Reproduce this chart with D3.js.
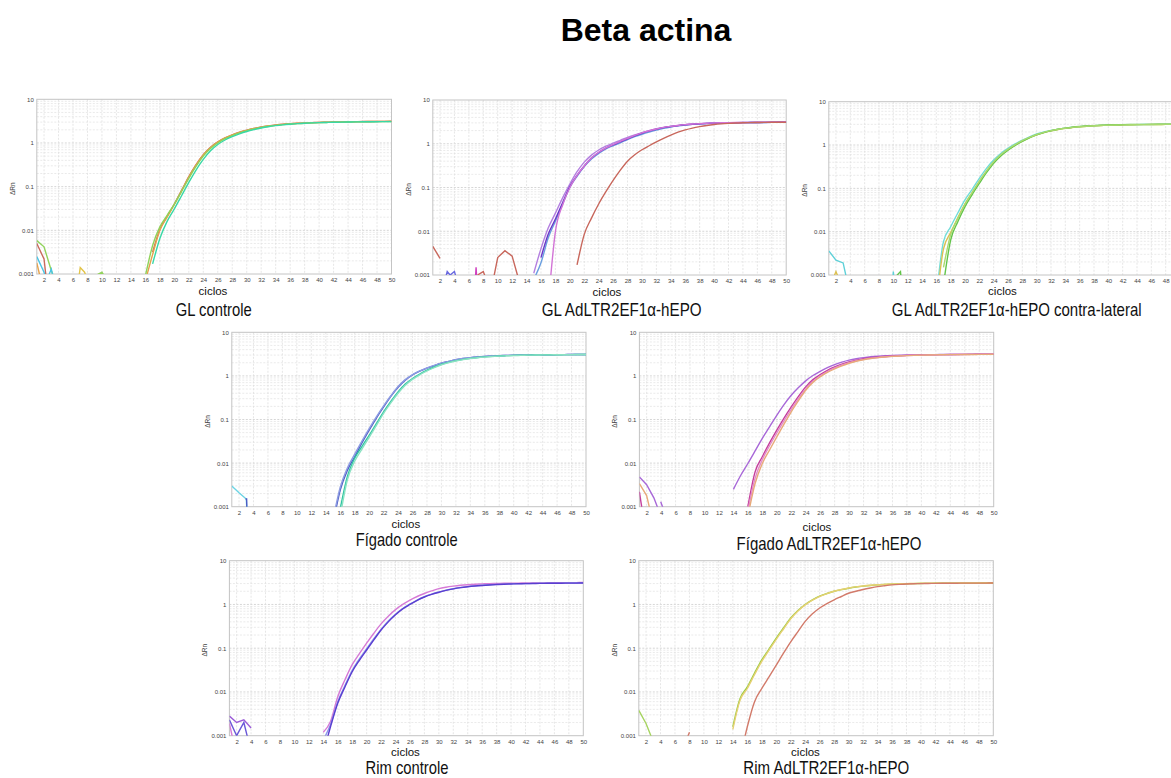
<!DOCTYPE html>
<html><head><meta charset="utf-8">
<script src="https://cdn.jsdelivr.net/npm/d3@7"></script>
<style>
html,body{margin:0;padding:0;background:#fff;}
svg{display:block;}
</style></head><body>
<svg id="chart" width="1171" height="778"></svg>
<script>
// ================= DATA =================
const mainTitle = "Beta actina";
const xLabel = "ciclos";
const yLabel = "ΔRn";
const xTicks = [2,4,6,8,10,12,14,16,18,20,22,24,26,28,30,32,34,36,38,40,42,44,46,48,50];
const yTicks = [0.001, 0.01, 0.1, 1, 10];
const yTickLabels = ["0.001", "0.01", "0.1", "1", "10"];
const panelTitles = ["GL controle", "GL AdLTR2EF1α-hEPO", "GL AdLTR2EF1α-hEPO contra-lateral",
  "Fígado controle", "Fígado AdLTR2EF1α-hEPO", "Rim controle", "Rim AdLTR2EF1α-hEPO"];

// Panel 1 — GL controle (first cycle of each curve, then one value per cycle up to 50)
const p1Starts = [17, 16, 16, 17];
const p1Red = [0.0032,0.0105,0.021,0.040,0.082,0.17,0.32,0.54,0.80,1.06,1.31,1.54,1.76,1.96,2.15,2.32,2.46,2.58,2.68,2.76,2.83,2.88,2.92,2.96,2.99,3.02,3.04,3.06,3.08,3.10,3.11,3.12,3.13,3.14];
const p1Orange = [0.0007,0.0028,0.0100,0.020,0.039,0.080,0.165,0.31,0.53,0.79,1.05,1.30,1.53,1.75,1.95,2.14,2.31,2.45,2.57,2.67,2.75,2.82,2.87,2.91,2.95,2.98,3.01,3.03,3.05,3.07,3.09,3.10,3.11,3.12,3.13];
const p1Green = [0.0009,0.0045,0.012,0.022,0.040,0.078,0.155,0.29,0.50,0.75,1.00,1.25,1.48,1.70,1.90,2.09,2.26,2.41,2.53,2.63,2.71,2.78,2.84,2.88,2.92,2.95,2.98,3.00,3.02,3.04,3.06,3.07,3.08,3.09,3.10];
const p1Teal = [0.0017,0.0065,0.016,0.031,0.062,0.125,0.24,0.42,0.66,0.92,1.17,1.40,1.62,1.83,2.02,2.20,2.36,2.49,2.60,2.69,2.77,2.83,2.88,2.92,2.95,2.98,3.00,3.02,3.04,3.05,3.06,3.07,3.08,3.09];
const p1Noise = [
  [[1,0.0058],[2,0.0042],[3,0.0012],[3.4,0.0008]],
  [[1,0.005],[2,0.0022],[2.3,0.0008]],
  [[1,0.0025],[2,0.0011],[2.2,0.0008]],
  [[1,0.0018],[1.5,0.0008]],
  [[2.5,0.0008],[3,0.0013],[3.3,0.0008]],
  [[6.8,0.0008],[7,0.0014],[7.6,0.0011],[7.9,0.0008]],
  [[9,0.0009],[10,0.0011],[10.5,0.0008]]
];

// Panel 2 — GL AdLTR2EF1α-hEPO
const p2Starts = [15, 15, 16, 17, 21];
const p2LightPurple = [0.0011,0.0040,0.0118,0.026,0.058,0.12,0.23,0.38,0.55,0.72,0.88,1.03,1.2,1.4,1.6,1.8,2.0,2.2,2.36,2.5,2.62,2.72,2.8,2.86,2.91,2.95,2.98,3.0,3.02,3.04,3.05,3.06,3.07,3.08,3.09,3.1];
const p2Blue = [0.0008,0.0019,0.007,0.017,0.042,0.10,0.18,0.30,0.45,0.60,0.76,0.90,1.05,1.25,1.45,1.65,1.85,2.05,2.25,2.42,2.56,2.68,2.78,2.85,2.91,2.95,2.98,3.0,3.02,3.04,3.05,3.06,3.07,3.08,3.09,3.1];
const p2DarkPurple = [0.0025,0.0085,0.019,0.045,0.105,0.19,0.31,0.47,0.63,0.79,0.94,1.1,1.3,1.52,1.74,1.95,2.15,2.33,2.48,2.6,2.71,2.8,2.87,2.92,2.96,2.99,3.01,3.03,3.05,3.06,3.07,3.08,3.09,3.10,3.11];
const p2Magenta = [0.0002,0.0098,0.04,0.1,0.19,0.31,0.47,0.64,0.8,0.96,1.13,1.33,1.55,1.77,1.98,2.18,2.36,2.5,2.62,2.73,2.82,2.89,2.94,2.98,3.01,3.03,3.05,3.07,3.08,3.09,3.10,3.11,3.12,3.13];
const p2Brown = [0.0017,0.0085,0.02,0.042,0.08,0.145,0.25,0.40,0.56,0.73,0.9,1.1,1.33,1.58,1.84,2.07,2.28,2.46,2.62,2.75,2.85,2.92,2.97,3.01,3.04,3.06,3.08,3.09,3.10,3.11];
const p2Noise = [
  [[1,0.0045],[2,0.0024]],
  [[2.8,0.0009],[3,0.0012],[3.4,0.001],[4,0.0012],[4.3,0.0008]],
  [[6.9,0.0008],[7,0.0015],[7.1,0.0008]],
  [[7.2,0.001],[8,0.0012],[8.4,0.0008]],
  [[9.4,0.0008],[10,0.0025],[11,0.0036],[12,0.0027],[12.9,0.0008]]
];

// Panel 3 — GL AdLTR2EF1α-hEPO contra-lateral
const p3Starts = [16, 16, 17, 17];
const p3Cyan = [0.0003,0.0059,0.013,0.027,0.054,0.095,0.17,0.29,0.45,0.64,0.84,1.06,1.3,1.55,1.8,2.0,2.18,2.33,2.46,2.57,2.66,2.73,2.79,2.84,2.88,2.91,2.93,2.95,2.96,2.97,2.98,2.99,3.0,3.0,3.01];
const p3Yellow = [0.0002,0.004,0.0095,0.021,0.044,0.08,0.145,0.25,0.4,0.58,0.78,1.0,1.23,1.48,1.72,1.93,2.12,2.28,2.42,2.54,2.63,2.71,2.77,2.82,2.86,2.89,2.91,2.93,2.95,2.96,2.97,2.98,2.99,2.99,3.0];
const p3Green = [0.0006,0.0064,0.017,0.038,0.072,0.13,0.23,0.38,0.56,0.76,0.98,1.22,1.47,1.72,1.94,2.14,2.31,2.45,2.57,2.67,2.75,2.81,2.86,2.9,2.93,2.95,2.97,2.98,2.99,3.0,3.01,3.02,3.02,3.03];
const p3LightGreen = [0.0015,0.0085,0.02,0.043,0.08,0.145,0.25,0.41,0.6,0.8,1.02,1.26,1.5,1.75,1.96,2.15,2.31,2.44,2.55,2.64,2.72,2.78,2.83,2.87,2.9,2.92,2.94,2.95,2.96,2.97,2.98,2.99,2.99,3.0];
const p3Noise = [
  [[1,0.0036],[2,0.0022],[3,0.0019],[3.5,0.0008]],
  [[1.7,0.0009],[2,0.0012],[2.3,0.0009]],
  [[9.95,0.0008],[10,0.0012],[10.1,0.0008]],
  [[10.3,0.0009],[11,0.0012],[11.1,0.0008]]
];

// Panel 4 — Fígado controle
const p4Starts = [15, 15, 16, 16];
const p4DarkBlue = [0.0004,0.0024,0.0069,0.014,0.029,0.057,0.108,0.194,0.34,0.55,0.8,1.05,1.28,1.5,1.72,1.95,2.15,2.35,2.5,2.62,2.72,2.8,2.86,2.91,2.95,2.98,3.0,3.02,3.04,3.05,3.06,3.07,3.08,3.09,3.1,3.1];
const p4Lavender = [0.0005,0.0028,0.0078,0.016,0.032,0.062,0.115,0.205,0.35,0.57,0.82,1.07,1.3,1.52,1.74,1.96,2.16,2.35,2.5,2.62,2.72,2.8,2.86,2.91,2.95,2.98,3.0,3.02,3.04,3.05,3.06,3.07,3.08,3.09,3.1,3.1];
const p4Teal = [0.0009,0.005,0.013,0.024,0.043,0.08,0.15,0.26,0.43,0.65,0.87,1.1,1.35,1.6,1.85,2.05,2.24,2.4,2.53,2.64,2.73,2.8,2.86,2.91,2.95,2.98,3.0,3.02,3.04,3.05,3.06,3.07,3.08,3.09,3.1];
const p4Mint = [0.0006,0.0042,0.011,0.021,0.039,0.073,0.138,0.24,0.4,0.61,0.83,1.06,1.3,1.55,1.8,2.01,2.2,2.36,2.5,2.61,2.7,2.78,2.84,2.89,2.93,2.96,2.99,3.01,3.03,3.04,3.05,3.06,3.07,3.08,3.09];
const p4Noise = [
  [[1,0.003],[2,0.0021],[3,0.0015],[3.1,0.0008]],
  [[2.9,0.0015],[3.05,0.0015],[3.1,0.0007]]
];

// Panel 5 — Fígado AdLTR2EF1α-hEPO
const p5Starts = [14, 16, 16, 16];
const p5Purple = [0.0025,0.0052,0.0098,0.019,0.037,0.068,0.125,0.22,0.36,0.54,0.77,1.02,1.27,1.55,1.82,2.07,2.3,2.48,2.62,2.74,2.83,2.9,2.95,2.99,3.02,3.04,3.06,3.07,3.08,3.09,3.1,3.11,3.12,3.13,3.14,3.15,3.16];
const p5Magenta = [0.001,0.0063,0.014,0.029,0.057,0.108,0.195,0.34,0.56,0.82,1.07,1.34,1.6,1.86,2.1,2.3,2.47,2.6,2.7,2.78,2.85,2.9,2.95,2.99,3.02,3.04,3.06,3.08,3.09,3.1,3.11,3.12,3.13,3.14,3.15];
const p5Pink = [0.0008,0.0045,0.012,0.025,0.049,0.093,0.17,0.3,0.5,0.75,1.0,1.26,1.52,1.78,2.02,2.23,2.4,2.54,2.65,2.74,2.82,2.88,2.93,2.97,3.0,3.03,3.05,3.07,3.08,3.09,3.1,3.11,3.12,3.13,3.14];
const p5Orange = [0.0006,0.0034,0.0098,0.02,0.04,0.078,0.15,0.27,0.47,0.71,0.95,1.2,1.45,1.7,1.95,2.17,2.35,2.5,2.62,2.72,2.8,2.87,2.92,2.96,2.99,3.02,3.04,3.06,3.07,3.08,3.09,3.1,3.11,3.12,3.13];
const p5Noise = [
  [[1,0.0048],[2,0.0032],[3,0.0016],[3.7,0.0008]],
  [[1,0.0034],[2,0.0018],[2.5,0.0008]],
  [[1,0.0022],[1.4,0.0008]],
  [[3.95,0.0013],[4.4,0.0008]]
];

// Panel 6 — Rim controle
const p6Starts = [14, 14, 14];
const p6Pink = [0.0012,0.0021,0.0078,0.019,0.042,0.075,0.13,0.22,0.36,0.54,0.76,1.0,1.26,1.52,1.78,2.04,2.3,2.48,2.62,2.74,2.83,2.9,2.95,2.99,3.02,3.04,3.06,3.08,3.09,3.1,3.11,3.12,3.13,3.14,3.15,3.16,3.17];
const p6LightBlue = [0.0008,0.0018,0.006,0.014,0.031,0.057,0.097,0.165,0.27,0.42,0.6,0.81,1.02,1.26,1.5,1.72,1.92,2.12,2.29,2.44,2.56,2.66,2.74,2.81,2.87,2.92,2.96,2.99,3.01,3.03,3.05,3.06,3.07,3.08,3.09,3.10,3.11];
const p6DarkBlue = [0.0004,0.0016,0.0055,0.013,0.029,0.053,0.091,0.155,0.26,0.4,0.58,0.79,1.0,1.24,1.48,1.7,1.9,2.1,2.27,2.42,2.54,2.64,2.72,2.79,2.85,2.9,2.94,2.97,2.99,3.01,3.03,3.04,3.05,3.06,3.07,3.08,3.09];
const p6Noise = [
  [[1,0.0028],[2,0.002],[3,0.0023],[4,0.0015]],
  [[1,0.0023],[2,0.001],[3,0.002],[3.6,0.0008]],
  [[1,0.0019],[1.5,0.0008]]
];

// Panel 7 — Rim AdLTR2EF1α-hEPO
const p7Starts = [14, 14, 15];
const p7Green = [0.0016,0.0071,0.013,0.027,0.054,0.095,0.17,0.29,0.49,0.73,1.0,1.27,1.55,1.78,2.0,2.18,2.35,2.5,2.62,2.72,2.8,2.86,2.91,2.95,2.98,3.0,3.02,3.03,3.04,3.05,3.06,3.07,3.07,3.08,3.08,3.09,3.09];
const p7Yellow = [0.0014,0.0065,0.012,0.025,0.05,0.09,0.16,0.275,0.47,0.71,0.98,1.25,1.53,1.77,2.0,2.19,2.37,2.52,2.64,2.74,2.82,2.88,2.93,2.97,3.0,3.02,3.04,3.05,3.06,3.07,3.08,3.08,3.09,3.09,3.1,3.1,3.1];
const p7Red = [0.0003,0.0016,0.006,0.012,0.022,0.041,0.077,0.14,0.24,0.41,0.61,0.83,1.05,1.28,1.52,1.8,2.0,2.2,2.38,2.55,2.68,2.8,2.88,2.94,2.98,3.0,3.02,3.03,3.04,3.05,3.06,3.07,3.07,3.08,3.08,3.09];
const p7Noise = [
  [[1,0.0038],[2,0.0019],[2.9,0.0008]],
  [[7.6,0.0008],[8,0.0012]]
];

// ================= LAYOUT & STYLE =================
const panels = [
  {curves:[p1Red,p1Orange,p1Green,p1Teal], starts:p1Starts, noise:p1Noise,
   colors:["#c96a5c","#e4a24c","#8fd35a","#38d8a6"],
   noiseColors:["#92d35c","#c96a5c","#4cc4e4","#e4a24c","#4cc4e4","#e2c44a","#92d35c"],
   l:36.8, r:391.5, t:99.3, b:274, cx:213, cy:295, tx:213.7, ty:315.5, tw:76},
  {curves:[p2LightPurple,p2Blue,p2DarkPurple,p2Magenta,p2Brown], starts:p2Starts, noise:p2Noise,
   colors:["#b47fe0","#6a9fe0","#6a36c8","#d274d6","#c8675c"],
   noiseColors:["#c8675c","#6a6ae0","#d040c0","#c8675c","#c8675c"],
   l:432.8, r:786.2, t:100, b:275, cx:607, cy:295.7, tx:621.7, ty:316, tw:160},
  {curves:[p3Cyan,p3Yellow,p3Green,p3LightGreen], starts:p3Starts, noise:p3Noise,
   colors:["#6fdcd8","#dcc050","#62c44a","#a8da70"],
   noiseColors:["#5ed0d8","#dcc050","#5ed0d8","#62c44a"],
   l:828.8, r:1180, t:101.7, b:275, cx:1002.5, cy:295, tx:1016.7, ty:316, tw:250},
  {curves:[p4DarkBlue,p4Lavender,p4Teal,p4Mint], starts:p4Starts, noise:p4Noise,
   colors:["#4c5cc4","#8e9ce2","#2ec4a2","#8ae2c2"],
   noiseColors:["#6cd4e4","#4c5cc4"],
   l:231.8, r:586, t:332.3, b:506.7, cx:405.8, cy:528.3, tx:406.7, ty:546, tw:102},
  {curves:[p5Purple,p5Magenta,p5Pink,p5Orange], starts:p5Starts, noise:p5Noise,
   colors:["#a868d8","#c43e9c","#e48cc8","#e8aa7a"],
   noiseColors:["#a868d8","#e8aa7a","#c43e9c","#a868d8"],
   l:639.4, r:993.7, t:332.3, b:506.7, cx:817, cy:530.7, tx:829, ty:550, tw:185},
  {curves:[p6Pink,p6LightBlue,p6DarkBlue], starts:p6Starts, noise:p6Noise,
   colors:["#d67ad6","#8c96ea","#5a3ed0"],
   noiseColors:["#9c5ed8","#6a58d8","#d67ad6"],
   l:229.4, r:583.3, t:560.7, b:735.7, cx:405.5, cy:755.7, tx:407, ty:773.5, tw:83},
  {curves:[p7Green,p7Yellow,p7Red], starts:p7Starts, noise:p7Noise,
   colors:["#96cc40","#e6d072","#d27a6a"],
   noiseColors:["#a6d460","#d27a6a"],
   l:638.8, r:993.3, t:560.7, b:735.7, cx:805.5, cy:755.7, tx:826.3, ty:774, tw:166}
];

const FONT = "'Liberation Sans', Arial, sans-serif";
const W = 1171;
const svg = d3.select("#chart");
const defs = svg.append("defs");

svg.append("text")
  .attr("x", 646).attr("y", 41).attr("text-anchor", "middle")
  .style("font-family", FONT).style("font-weight", "bold").style("font-size", "32px")
  .attr("fill", "#000").text(mainTitle);

panels.forEach((p, i) => {
  const x = d3.scaleLinear().domain([1, 50]).range([p.l, p.r]);
  const y = d3.scaleLog().domain([0.001, 10]).range([p.b, p.t]);
  const g = svg.append("g");
  const clipId = "clip" + i;
  defs.append("clipPath").attr("id", clipId).append("rect")
    .attr("x", p.l).attr("y", p.t).attr("width", Math.min(p.r, W) - p.l).attr("height", p.b - p.t);

  const pr = Math.min(p.r, W);
  g.append("rect").attr("x", p.l).attr("y", p.t).attr("width", pr - p.l).attr("height", p.b - p.t)
    .attr("fill", "#fff");

  // minor horizontal grid
  const minor = [];
  [0.001, 0.01, 0.1, 1].forEach(d => { for (let k = 2; k <= 9; k++) minor.push(d * k); });
  g.selectAll(null).data(minor).join("line")
    .attr("x1", p.l).attr("x2", pr).attr("y1", d => y(d)).attr("y2", d => y(d))
    .attr("stroke", "#e4e4e4").attr("stroke-width", 0.8).attr("stroke-dasharray", "2,1.5");
  // major horizontal grid
  g.selectAll(null).data(yTicks.slice(1, 4)).join("line")
    .attr("x1", p.l).attr("x2", pr).attr("y1", d => y(d)).attr("y2", d => y(d))
    .attr("stroke", "#d6d6d6").attr("stroke-width", 1).attr("stroke-dasharray", "2,1.5");
  // vertical grid
  g.selectAll(null).data(xTicks.filter(c => c < 50 && x(c) < W)).join("line")
    .attr("x1", d => x(d)).attr("x2", d => x(d)).attr("y1", p.t).attr("y2", p.b)
    .attr("stroke", "#e0e0e0").attr("stroke-width", 0.8).attr("stroke-dasharray", "2,1.5");

  // frame
  g.append("rect").attr("x", p.l).attr("y", p.t).attr("width", p.r - p.l).attr("height", p.b - p.t)
    .attr("fill", "none").attr("stroke", "#c4c4c4").attr("stroke-width", 1);

  // axes (only ticks that fall inside the page)
  const visibleX = xTicks.filter(c => x(c) <= W - 4);
  const ya = g.append("g").attr("transform", `translate(${p.l},0)`)
    .call(d3.axisLeft(y).tickValues(yTicks).tickFormat((d, j) => yTickLabels[j]).tickSize(0).tickPadding(3));
  const xa = g.append("g").attr("transform", `translate(0,${p.b})`)
    .call(d3.axisBottom(x).tickValues(visibleX).tickFormat(d3.format("d")).tickSize(0).tickPadding(4));
  [ya, xa].forEach(a => {
    a.select(".domain").remove();
    a.selectAll("text").style("font-family", FONT).style("font-size", "6px").attr("fill", "#444");
  });

  // y label
  g.append("text")
    .attr("transform", `translate(${p.l - 22},${(p.t + p.b) / 2 + 2}) rotate(-90)`)
    .attr("text-anchor", "middle")
    .style("font-family", FONT).style("font-size", "6.5px").attr("fill", "#444").text(yLabel);

  // curves
  const plot = g.append("g").attr("clip-path", `url(#${clipId})`);
  const lineLin = d3.line().x(d => x(d[0])).y(d => y(d[1]));
  const lineSmooth = d3.line().x(d => x(d[0])).y(d => y(d[1])).curve(d3.curveMonotoneX);
  p.noise.forEach((pts, j) => {
    plot.append("path").datum(pts).attr("d", lineLin)
      .attr("fill", "none").attr("stroke", p.noiseColors[j]).attr("stroke-width", 1.4);
  });
  p.curves.forEach((vals, j) => {
    const pts = vals.map((v, k) => [p.starts[j] + k, v]);
    plot.append("path").datum(pts).attr("d", lineSmooth)
      .attr("fill", "none").attr("stroke", p.colors[j]).attr("stroke-width", 1.4);
  });

  // x label
  svg.append("text").attr("x", p.cx).attr("y", p.cy).attr("text-anchor", "middle")
    .style("font-family", FONT).style("font-size", "11.5px").attr("fill", "#111").text(xLabel);
  // panel title: condensed face, obtained by a horizontal scale to the reference width
  const tg = svg.append("g");
  const tt = tg.append("text").attr("x", 0).attr("y", 0).attr("text-anchor", "middle")
    .style("font-family", FONT).style("font-size", "18px").attr("fill", "#111")
    .text(panelTitles[i]);
  const natural = tt.node().getComputedTextLength();
  const sx = natural > 0 ? p.tw / natural : 1;
  tg.attr("transform", `translate(${p.tx},${p.ty}) scale(${sx},1)`);
});
</script>
</body></html>
